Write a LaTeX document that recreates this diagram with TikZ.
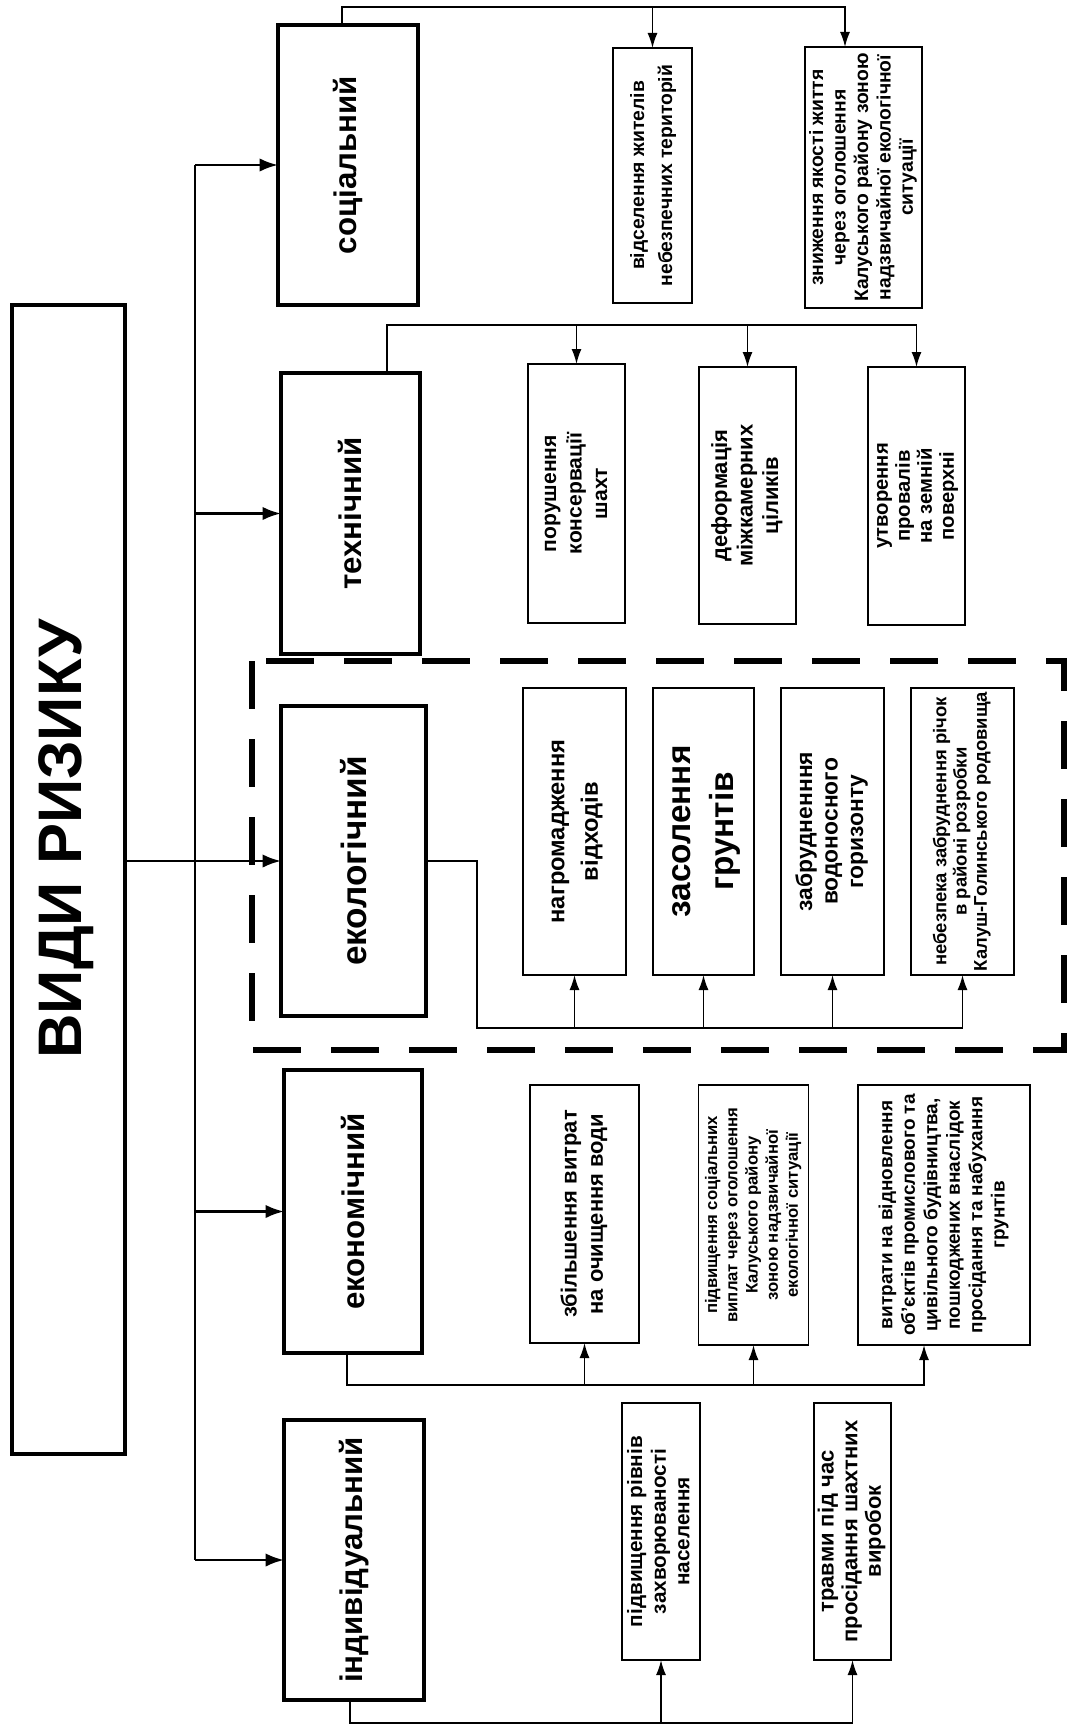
\documentclass[tikz,border=0pt]{standalone}
\usepackage{fontspec}
\setmainfont{Liberation Sans}
\usepackage{graphicx}
\usetikzlibrary{arrows.meta}

\newcommand{\fsz}[2]{\fontsize{#1}{#2}\selectfont\bfseries}
\newcommand{\vtext}[1]{\rotatebox{90}{\begin{tabular}{@{}c@{}}#1\end{tabular}}}

\begin{document}
\begin{tikzpicture}[x=0.2mm, y=-0.2mm,
  sz/.style 2 args={minimum width=#1*0.2mm, minimum height=#2*0.2mm},
  box/.style={draw, inner sep=0pt, outer sep=0pt, line width=1.1pt},
  catbox/.style={box, line width=1.9pt, font=\fsz{17.8}{20}},
  link/.style={line width=0.9pt, -{Latex[length=3mm,width=2mm]}},
  branch/.style={line width=1.5pt, -{Latex[length=3.7mm,width=2.7mm]}}]

            \useasboundingbox (0,0) rectangle (1069,1733);

            \node[box, line width=2.6pt, sz={113}{1149}] (vidy) at (68.5,879.5) {};
            \node[font=\fsz{35}{38}] (vidytxt) at (66.5,839) {\rotatebox{90}{ВИДИ РИЗИКУ}};

            \node[catbox, sz={140}{280}] (soc) at (348,165) {\rotatebox{90}{соціальний}};
            \node[catbox, sz={139}{281}] (tech) at (350.5,513.5) {\rotatebox{90}{технічний}};
            \node[catbox, sz={145}{310}, font=\fsz{20}{22}] (eco) at (353.5,861) {\rotatebox{90}{екологічний}};
            \node[catbox, sz={138}{283}] (econ) at (353,1211.5) {\rotatebox{90}{економічний}};
            \node[catbox, sz={140}{280}] (indiv) at (354,1560) {\rotatebox{90}{індивідуальний}};

            \coordinate (trunk) at (195,0);
            \draw[line width=1.6pt] (trunk |- soc.west) -- (trunk |- indiv.west);
            \draw[branch] (trunk |- soc.west) -- (soc.west);
            \draw[branch] (trunk |- tech.west) -- (tech.west);
            \draw[branch] (vidy.east |- eco.west) -- (eco.west);
            \draw[branch] (trunk |- econ.west) -- (econ.west);
            \draw[branch] (trunk |- indiv.west) -- (indiv.west);

            \draw[line width=3.2pt, dash pattern=on 9.6mm off 6mm] (252,661) rectangle (1064,1050);

            % social
            \node[box, sz={79}{255}, font=\fsz{11}{16}] (s1) at (652.5,175.5) {\vtext{відселення жителів\\небезпечних територій}};
            \node[box, sz={117}{261}, font=\fsz{11}{12.8}] (s2) at (863.5,177.5) {\vtext{зниження якості життя\\через оголошення\\Калуського району зоною\\надзвичайної екологічної\\ситуації}};

            \coordinate (sk) at (342,7);
            \draw[link] (sk |- soc.north) -- (sk) -| ([xshift=-3.7mm]s2.north);
            \draw[link] (sk -| s1.north) -- (s1.north);

            % technical
            \node[box, sz={97}{259}, font=\fsz{12}{14.5}] (t1) at (576.5,493.5) {\vtext{порушення\\консервації\\шахт}};
            \node[box, sz={97}{257}, font=\fsz{12.5}{14.5}] (t2) at (747.5,495.5) {\vtext{деформація\\міжкамерних\\ціликів}};
            \node[box, sz={97}{258}, font=\fsz{11.5}{12.5}] (t3) at (916.5,496) {\vtext{утворення\\провалів\\на земній\\поверхні}};

            \coordinate (tk) at (387,325);
            \draw[link] (tk |- tech.north) -- (tk) -| (t3.north);
            \draw[link] (tk -| t1.north) -- (t1.north);
            \draw[link] (tk -| t2.north) -- (t2.north);

            % ecological
            \node[box, sz={103}{287}, font=\fsz{13.5}{19}] (e1) at (574.5,831.5) {\vtext{нагромадження\\відходів}};
            \node[box, sz={101}{287}, font=\fsz{19}{24}] (e2) at (703.5,831.5) {\vtext{засолення\\грунтів}};
            \node[box, sz={103}{287}, font=\fsz{13}{14.5}] (e3) at (832.5,831.5) {\vtext{забрудненння\\водоносного\\горизонту}};
            \node[box, sz={103}{287}, font=\fsz{10.5}{11.5}] (e4) at (962.5,831.5) {\vtext{небезпека забруднення річок\\в районі розробки\\Калуш-Голинського родовища}};

            \coordinate (ek) at (477,1028);
            \draw[link] (eco.east) -| (ek) -| (e4.south);
            \draw[link] (ek -| e1.south) -- (e1.south);
            \draw[link] (ek -| e2.south) -- (e2.south);
            \draw[link] (ek -| e3.south) -- (e3.south);

            % economic
            \node[box, sz={109}{258}, font=\fsz{12.5}{15}] (c1) at (584.5,1214) {\vtext{збільшення витрат\\на очищення води}};
            \node[box, sz={110}{260}, font=\fsz{9.5}{11.5}] (c2) at (753.5,1215) {\vtext{підвищення соціальних\\виплат через оголошення\\Калуського району\\зоною надзвичайної\\екологічної ситуації}};
            \node[box, sz={172}{260}, font=\fsz{10.8}{12.8}] (c3) at (944,1215) {\vtext{витрати на відновлення\\об’єктів промислового та\\цивільного будівництва,\\пошкоджених внаслідок\\просідання та набухання\\грунтів}};

            \coordinate (ck) at (347,1385);
            \draw[link] (ck |- econ.south) -- (ck) -| ([xshift=-4mm]c3.south);
            \draw[link] (ck -| c1.south) -- (c1.south);
            \draw[link] (ck -| c2.south) -- (c2.south);

            % individual
            \node[box, sz={78}{257}, font=\fsz{11.8}{13.5}] (i1) at (661,1531.5) {\vtext{підвищення рівнів\\захворюваності\\населення}};
            \node[box, sz={77}{257}, font=\fsz{12.5}{13.5}] (i2) at (852.5,1531.5) {\vtext{травми під час\\просідання шахтних\\виробок}};

            \coordinate (ik) at (350,1723);
            \draw[link] (ik |- indiv.south) -- (ik) -| (i2.south);
            \draw[link] (ik -| i1.south) -- (i1.south);

\end{tikzpicture}
\end{document}
